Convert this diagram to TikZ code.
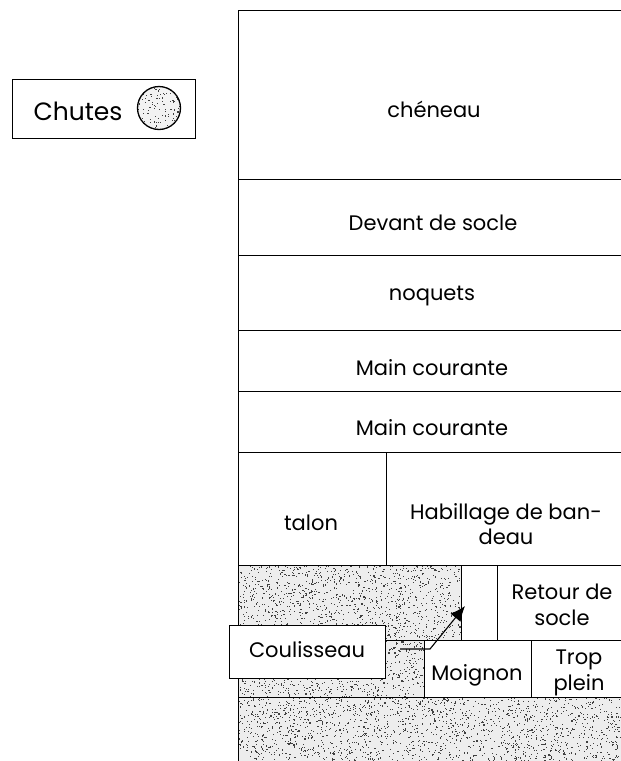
\documentclass[tikz,border=0pt]{standalone}
\usepackage{fontspec}
\setmainfont{Poppins}
\usetikzlibrary{arrows.meta}
\tikzset{
  ln/.style={line width=0.9pt,black},
  lbl/.style={inner sep=0pt,font=\fontsize{21}{26}\selectfont},
  lblm/.style={inner sep=0pt,align=center,font=\fontsize{21}{25.5}\selectfont},
  boxw/.style={draw,line width=1pt,fill=white,inner sep=0pt},
  dot/.style={fill=black!75},
}
\newcommand{\stipple}[5]{% x0 y0 w h n
  \foreach \i in {1,...,#5}{\fill[dot] ({#1+#3*rnd},{#2+#4*rnd}) rectangle +(1.1,1.1);}}
\begin{document}
\begin{tikzpicture}[x=1pt,y=-1pt]
\useasboundingbox (0,0) rectangle (621,761);
\pgfmathsetseed{7}
% stippled regions
\begin{scope}
  \fill[black!7] (238,565) rectangle (461,640);
  \fill[black!7] (238,640) rectangle (424,697);
  \fill[black!7] (238,697) rectangle (621,761);
  \stipple{238}{565}{223}{75}{1200}
  \stipple{238}{640}{186}{57}{750}
  \stipple{238}{697}{383}{64}{1750}
\end{scope}
% grid
\draw[ln] (238,10) -- (238,761);
\draw[ln] (238,10) -- (621,10);
\foreach \yy in {179,255,330,391,452,565,697}{\draw[ln] (238,\yy) -- (621,\yy);}
\draw[ln] (386,452) -- (386,565);
\draw[ln] (461,565) -- (461,640);
\draw[ln] (497,565) -- (497,640);
\draw[ln] (238,640) -- (621,640);
\draw[ln] (424,640) -- (424,697);
\draw[ln] (531,640) -- (531,697);
% labels
\node[lbl,anchor=base] (cheneau) at (434,117) {chéneau};
\node[lbl,anchor=base] (devant) at (433,230) {Devant de socle};
\node[lbl,anchor=base] (noquets) at (432,300) {noquets};
\node[lbl,anchor=base] (main1) at (432,375) {Main courante};
\node[lbl,anchor=base] (main2) at (432,435) {Main courante};
\node[lbl,anchor=base] (talon) at (311,530) {talon};
\node[lblm] (habillage) at (506,524) {Habillage de ban-\\deau};
\node[lblm] (retour) at (562,605) {Retour de\\socle};
\node[lbl,anchor=base] (moignon) at (477,680) {Moignon};
\node[lblm] (trop) at (579,673) {Trop\\plein};
% Coulisseau box and arrow
\node[boxw,minimum width=156pt,minimum height=53pt] (coul) at (307,651.5) {};
\node[lbl,anchor=base] (coultxt) at (307,657) {Coulisseau};
\coordinate (a0) at (400,649);
\coordinate (a1) at (430,649);
\coordinate (a2) at (465,606);
\draw[line width=1.1pt,-{Latex[length=15pt,width=13pt]}] (a0) -- (a1) -- (a2);
% Chutes legend
\node[boxw,minimum width=183pt,minimum height=59pt] (chutes) at (103.5,108.5) {};
\node[inner sep=0pt,anchor=base,font=\fontsize{25}{30}\selectfont] (chutestxt) at (78,120) {Chutes};
\begin{scope}
  \clip (159,108) circle (21.5);
  \fill[black!5] (159,108) circle (21.5);
  \stipple{137}{86}{44}{44}{110}
\end{scope}
\draw[line width=1.3pt] (159,108) circle (21.5);
\end{tikzpicture}
\end{document}
